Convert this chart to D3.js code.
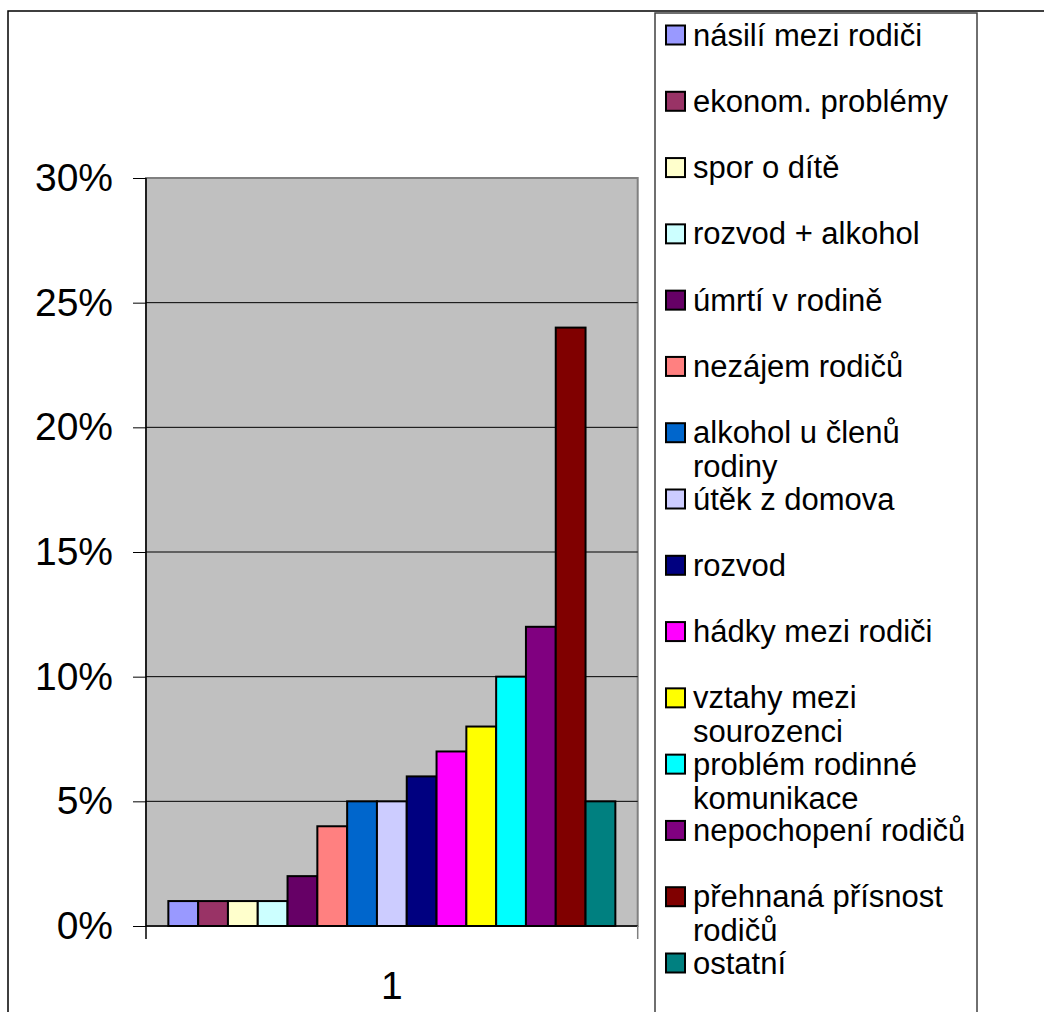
<!DOCTYPE html>
<html>
<head>
<meta charset="utf-8">
<script src="https://cdn.jsdelivr.net/npm/d3@7"></script>
<style>
  body { margin: 0; background: #fff; }
  text { font-family: "Liberation Sans", Arial, sans-serif; fill: #000; }
</style>
</head>
<body>
<div id="chart"></div>
<script>
// categories (legend order = bar order)
const categories = [
  "násilí mezi rodiči",
  "ekonom. problémy",
  "spor o dítě",
  "rozvod + alkohol",
  "úmrtí v rodině",
  "nezájem rodičů",
  "alkohol u členů rodiny",
  "útěk z domova",
  "rozvod",
  "hádky mezi rodiči",
  "vztahy mezi sourozenci",
  "problém rodinné komunikace",
  "nepochopení rodičů",
  "přehnaná přísnost rodičů",
  "ostatní"
];
const values = [0.01, 0.01, 0.01, 0.01, 0.02, 0.04, 0.05, 0.05, 0.06, 0.07, 0.08, 0.10, 0.12, 0.24, 0.05];
const colors = ["#9999FF", "#993366", "#FFFFCC", "#CCFFFF", "#660066", "#FF8080", "#0066CC", "#CCCCFF",
                "#000080", "#FF00FF", "#FFFF00", "#00FFFF", "#800080", "#800000", "#008080"];
const groups = ["1"];
const yTicks = [0, 0.05, 0.10, 0.15, 0.20, 0.25, 0.30];

const W = 1044, H = 1012;
const plot = { left: 146, right: 637.7, top: 178, bottom: 926 };

const svg = d3.select("#chart").append("svg")
  .attr("width", W).attr("height", H);

// outer chart border (only top/left visible in the crop)
svg.append("rect")
  .attr("x", 8).attr("y", 11)
  .attr("width", W + 20).attr("height", H + 20)
  .attr("fill", "none").attr("stroke", "#000").attr("stroke-width", 1.5);

// scales
const y = d3.scaleLinear().domain([0, 0.30]).range([plot.bottom, plot.top]);
const x0 = d3.scaleBand().domain(groups).range([plot.left, plot.right])
  .paddingInner(1.5 / 16.5).paddingOuter(0.75 / 16.5);
const x1 = d3.scaleBand().domain(categories).range([0, x0.bandwidth()]);

// plot area
svg.append("rect")
  .attr("x", plot.left).attr("y", plot.top)
  .attr("width", plot.right - plot.left).attr("height", plot.bottom - plot.top)
  .attr("fill", "#C0C0C0").attr("stroke", "#808080").attr("stroke-width", 2);

// gridlines
svg.append("g").selectAll("line")
  .data(yTicks.filter(d => d > 0 && d < 0.30))
  .enter().append("line")
  .attr("x1", plot.left).attr("x2", plot.right)
  .attr("y1", d => y(d)).attr("y2", d => y(d))
  .attr("stroke", "#000").attr("stroke-width", 1);

// y axis
const yAxis = svg.append("g")
  .attr("transform", `translate(${plot.left},0)`)
  .call(d3.axisLeft(y).tickValues(yTicks).tickFormat(d3.format(".0%")).tickSize(13).tickPadding(20));
yAxis.select(".domain").remove();
yAxis.selectAll(".tick line").attr("stroke", "#000");
yAxis.selectAll("text")
  .style("font-family", '"Liberation Sans", Arial, sans-serif')
  .style("font-size", "39px").attr("fill", "#000");
svg.append("line")
  .attr("x1", plot.left).attr("x2", plot.left)
  .attr("y1", plot.top).attr("y2", plot.bottom + 13)
  .attr("stroke", "#000").attr("stroke-width", 1.5);

// x axis
const xAxis = svg.append("g")
  .attr("transform", `translate(0,${plot.bottom})`)
  .call(d3.axisBottom(x0).tickSize(0).tickPadding(45));
xAxis.select(".domain").remove();
xAxis.selectAll("text")
  .style("font-family", '"Liberation Sans", Arial, sans-serif')
  .style("font-size", "39px").attr("fill", "#000");
svg.append("line")
  .attr("x1", plot.left).attr("x2", plot.right)
  .attr("y1", plot.bottom).attr("y2", plot.bottom)
  .attr("stroke", "#000").attr("stroke-width", 1.5);
svg.append("line")
  .attr("x1", plot.right).attr("x2", plot.right)
  .attr("y1", plot.bottom).attr("y2", plot.bottom + 13)
  .attr("stroke", "#808080").attr("stroke-width", 1.5);

// bars
svg.append("g").selectAll("rect")
  .data(categories.map((c, i) => ({ c, v: values[i], col: colors[i] })))
  .enter().append("rect")
  .attr("x", d => x0("1") + x1(d.c))
  .attr("y", d => y(d.v))
  .attr("width", x1.bandwidth())
  .attr("height", d => plot.bottom - y(d.v))
  .attr("fill", d => d.col)
  .attr("stroke", "#000").attr("stroke-width", 2);

// legend
const legend = svg.append("g");
legend.append("rect")
  .attr("x", 655).attr("y", 13)
  .attr("width", 322).attr("height", H + 20)
  .attr("fill", "#fff").attr("stroke", "#404040").attr("stroke-width", 1.5);

const rowStep = (963 - 35) / 14;
const maxTextW = 282;
categories.forEach((c, i) => {
  const cy = 35 + i * rowStep;
  legend.append("rect")
    .attr("x", 666).attr("y", cy - 9.5)
    .attr("width", 19).attr("height", 19)
    .attr("fill", colors[i]).attr("stroke", "#000").attr("stroke-width", 2);
  const t = legend.append("text")
    .attr("x", 693).attr("y", cy + 10.5)
    .style("font-size", "31px");
  // simple word wrap
  const words = c.split(" ");
  let line = [];
  let tspan = t.append("tspan").attr("x", 693).attr("dy", 0);
  words.forEach(w => {
    line.push(w);
    tspan.text(line.join(" "));
    if (tspan.node().getComputedTextLength() > maxTextW && line.length > 1) {
      line.pop();
      tspan.text(line.join(" "));
      line = [w];
      tspan = t.append("tspan").attr("x", 693).attr("dy", 34).text(w);
    }
  });
});
</script>
</body>
</html>
